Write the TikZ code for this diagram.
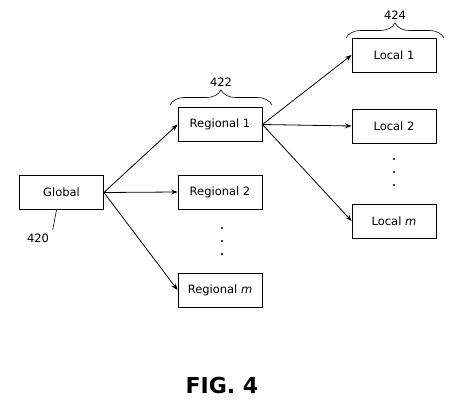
\documentclass[tikz,border=0pt]{standalone}
\usepackage{fontspec}
\setmainfont{DejaVu Sans}
\usetikzlibrary{arrows.meta, positioning, decorations.pathreplacing}

\begin{document}
\begin{tikzpicture}[x=1pt, y=1pt, >=Stealth, line width=0.8pt,
  entity/.style={rectangle, draw, minimum width=84pt, minimum height=34pt,
    inner sep=2pt, font=\fontsize{11.5}{13}\selectfont},
  refnum/.style={font=\fontsize{11.5}{13}\selectfont},
  grpbrace/.style={decorate, decoration={brace, amplitude=15pt}, line width=0.6pt}]
  \useasboundingbox (0,0) rectangle (451,400);

  % hierarchy nodes
  \node[entity] (global) at (61.5,207.5) {Global};
  \node[entity] (reg1)   at (220,275.5)  {Regional 1};
  \node[entity] (reg2)   at (220,208)    {Regional 2};
  \node[entity] (regm)   at (220,110)    {Regional \textit{m}};
  \node[entity] (loc1)   at (394,345)    {Local 1};
  \node[entity] (loc2)   at (394,274)    {Local 2};
  \node[entity] (locm)   at (394,179)    {Local \textit{m}};

  % continuation dots
  \foreach \y in {172,159,146} \fill (222,\y) circle (1.2pt);
  \foreach \y in {241,228,215} \fill (394,\y) circle (1.2pt);

  % connectors
  \foreach \t in {reg1, reg2, regm}
    \draw[->] (global.east) -- (\t.west);
  \foreach \t in {loc1, loc2, locm}
    \draw[->] (reg1.east) -- (\t.west);

  % group braces and reference numerals
  \coordinate (b1l) at (170,295);
  \coordinate (b1r) at (272,295);
  \draw[grpbrace] (b1l) -- node[refnum, above=15pt] (n422) {422} (b1r);
  \coordinate (b2l) at (346,362);
  \coordinate (b2r) at (444,362);
  \draw[grpbrace] (b2l) -- node[refnum, above=15pt] (n424) {424} (b2r);

  \node[refnum] (n420) at (38,162) {420};
  \draw[line width=0.6pt] ([xshift=-5pt]global.south) -- (n420.north east);

  \node[font=\bfseries\fontsize{22}{24}\selectfont] (fig) at (222,15) {FIG. 4};
\end{tikzpicture}
\end{document}
